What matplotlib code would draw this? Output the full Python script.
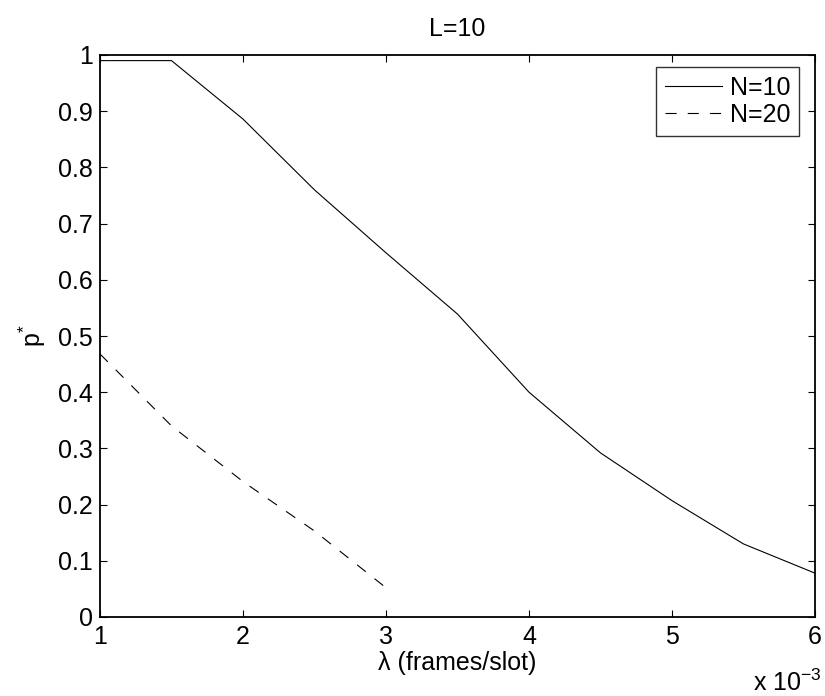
import matplotlib
matplotlib.use("Agg")
import matplotlib.pyplot as plt

plt.rcParams['font.family'] = ['Liberation Sans', 'DejaVu Sans']
plt.rcParams['mathtext.fontset'] = 'custom'
plt.rcParams['mathtext.rm'] = 'Liberation Sans'
plt.rcParams['mathtext.it'] = 'Liberation Sans'
plt.rcParams['lines.scale_dashes'] = False

# data (x in units of 1e-3 frames/slot)
lam_n10 = [1.0, 1.5, 2.0, 2.5, 3.0, 3.5, 4.0, 4.5, 5.0, 5.5, 6.0]
p_n10 = [0.99, 0.99, 0.886, 0.760, 0.648, 0.539, 0.400, 0.292, 0.207, 0.130, 0.078]
lam_n20 = [1.0, 1.5, 2.0, 2.5, 3.0]
p_n20 = [0.468, 0.340, 0.241, 0.153, 0.052]
labels = ['N=10', 'N=20']
xticks = [1, 2, 3, 4, 5, 6]
yticks = [0, 0.1, 0.2, 0.3, 0.4, 0.5, 0.6, 0.7, 0.8, 0.9, 1]

W, H = 825, 696
fig = plt.figure(figsize=(W / 100, H / 100), dpi=100)
L, R, T, B = 100, 815, 55, 617
ax = fig.add_axes([L / W, 1 - B / H, (R - L) / W, (B - T) / H])

fs = 18
ax.plot(lam_n10, p_n10, color='black', lw=0.8, label=labels[0])
ax.plot(lam_n20, p_n20, color='black', lw=0.8, linestyle='--', dashes=(8, 8), label=labels[1])

ax.set_xlim(1, 6)
ax.set_ylim(0, 1)
ax.set_xticks(xticks)
ax.set_xticklabels([str(t) for t in xticks])
ax.set_yticks(yticks)
ax.set_yticklabels(['0'] + [f'{t:g}' for t in yticks[1:-1]] + ['1'])
ax.tick_params(direction='in', top=True, right=True, length=5, width=0.8,
               labelsize=fs, colors='black')
ax.tick_params(axis='x', pad=6)
ax.tick_params(axis='y', pad=5)
for s in ax.spines.values():
    s.set_linewidth(1.3)

ax.set_title('L=10', fontsize=fs, pad=14)
ax.set_xlabel('λ (frames/slot)', fontsize=fs, labelpad=1)
ax.set_ylabel(r'p$^{*}$', fontsize=fs, labelpad=7)

fig.text(822 / W, 1 - 683 / H, r'x 10$^{-3}$', fontsize=fs, ha='right', va='center')

leg = ax.legend(loc='upper right', bbox_to_anchor=((799 - L) / (R - L), (B - 67) / (B - T)),
                borderaxespad=0, fontsize=fs, frameon=True, fancybox=False,
                edgecolor='black', handlelength=2.3, handletextpad=0.3,
                borderpad=0.35, labelspacing=0.12)
leg.get_frame().set_linewidth(1.0)

fig.savefig('out.png', dpi=100, facecolor='white')
